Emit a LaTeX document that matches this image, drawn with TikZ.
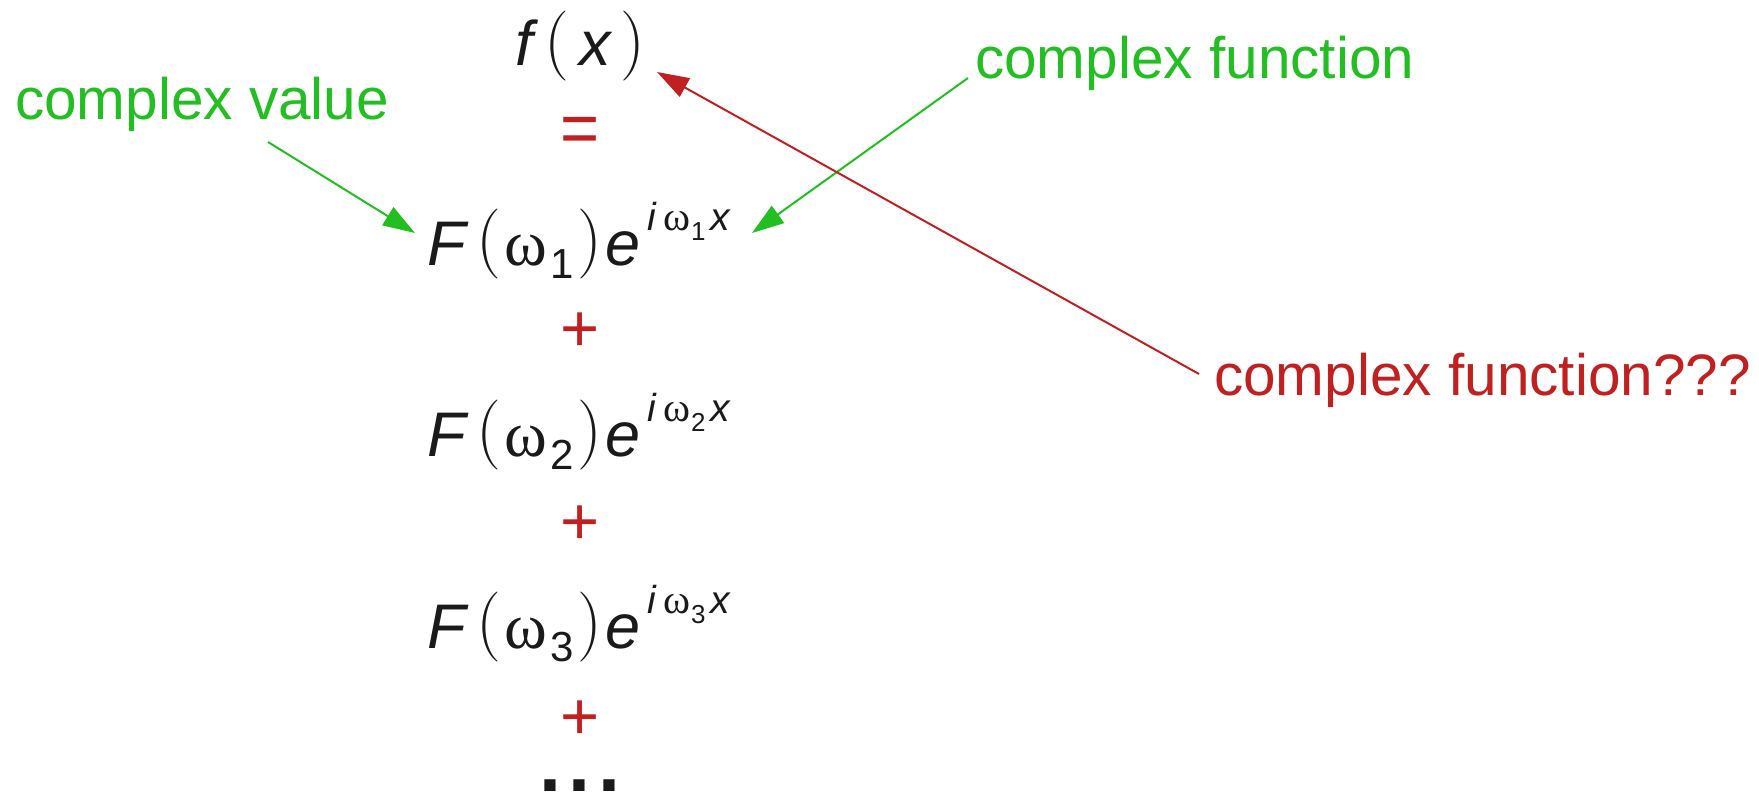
\documentclass[tikz,border=0pt]{standalone}
\usepackage{fontspec}
\usepackage{graphicx}
\usetikzlibrary{arrows.meta}
\newfontfamily\lsans{Liberation Sans}
\newfontfamily\lserif{Liberation Serif}
\definecolor{lgreen}{RGB}{34,190,34}
\definecolor{lred}{RGB}{192,32,32}
\definecolor{ink}{RGB}{26,26,26}
\tikzset{
  base/.style={inner sep=0pt, outer sep=0pt, anchor=base west, text=ink},
  mi/.style={base, font=\lsans\itshape\fontsize{63}{63}\selectfont},
  par/.style={base, font=\fontsize{70}{70}\selectfont},
  om/.style={base, font=\lserif\fontsize{65}{65}\selectfont},
  sub/.style={base, font=\lsans\fontsize{42}{42}\selectfont},
  supi/.style={base, font=\lsans\itshape\fontsize{39}{39}\selectfont},
  supom/.style={base, font=\lserif\fontsize{41}{41}\selectfont},
  supsub/.style={base, font=\lsans\fontsize{26}{26}\selectfont},
  op/.style={inner sep=0pt, anchor=center, text=lred, font=\lsans\fontsize{67}{67}\selectfont},
  lbl/.style={inner sep=0pt, anchor=base west, font=\lsans\fontsize{58.5}{58.5}\selectfont},
  arr/.style={line width=2pt, -{Triangle[length=32pt,width=21pt]}}
}
\begin{document}
\begin{tikzpicture}[x=1pt,y=-1pt]
\useasboundingbox (0,0) rectangle (1759,795);
% f(x)
\node[mi]  (f)  at (515,65) {f};
\node[par] (fl) at (544,63) {(};
\node[mi]  (fx) at (579,65) {x};
\node[par] (fr) at (620,63) {)};
\node[op]  (eq) at (580,135) {\scalebox{1}[1.1]{=}};
% rows
\foreach \r/\b/\p in {1/265/332, 2/456/525, 3/648/720} {
  \node[mi]     (F\r)  at (427,\b)    {F};
  \node[par]    (L\r)  at (476,\b-4)  {(};
  \node[om]     (w\r)  at (504,\b)    {ω};
  \node[sub]    (s\r)  at (550,\b+13) {\r};
  \node[par]    (R\r)  at (577,\b-4)  {)};
  \node[mi]     (e\r)  at (605,\b)    {e};
  \node[supi]   (i\r)  at (647,\b-35) {i};
  \node[supom]  (sw\r) at (663,\b-35) {ω};
  \node[supsub] (ss\r) at (691,\b-25) {\r};
  \node[supi]   (x\r)  at (710,\b-35) {x};
  \node[op]     (plus\r) at (580,\p) {+};
}
\node[inner sep=0pt, anchor=center, text=ink, font=\lsans\bfseries\fontsize{79}{79}\selectfont]
  (dots) at (580,786) {.\hspace{7.5pt}.\hspace{7.5pt}.};
% labels
\node[lbl, text=lgreen] (cv) at (15,119) {complex value};
\node[lbl, text=lgreen] (cf) at (975,78) {complex function};
\node[lbl, text=lred]   (cq) at (1214,395) {complex function???};
% connector ends
\coordinate (cvs) at (268,142);
\coordinate (cvt) at (415,233);
\coordinate (cfs) at (968,78);
\coordinate (cft) at (752,233);
\coordinate (cqs) at (1199,374);
\coordinate (cqt) at (657,72);
\draw[arr, lgreen] (cvs) -- (cvt);
\draw[arr, lgreen] (cfs) -- (cft);
\draw[arr, lred]   (cqs) -- (cqt);
\end{tikzpicture}
\end{document}
